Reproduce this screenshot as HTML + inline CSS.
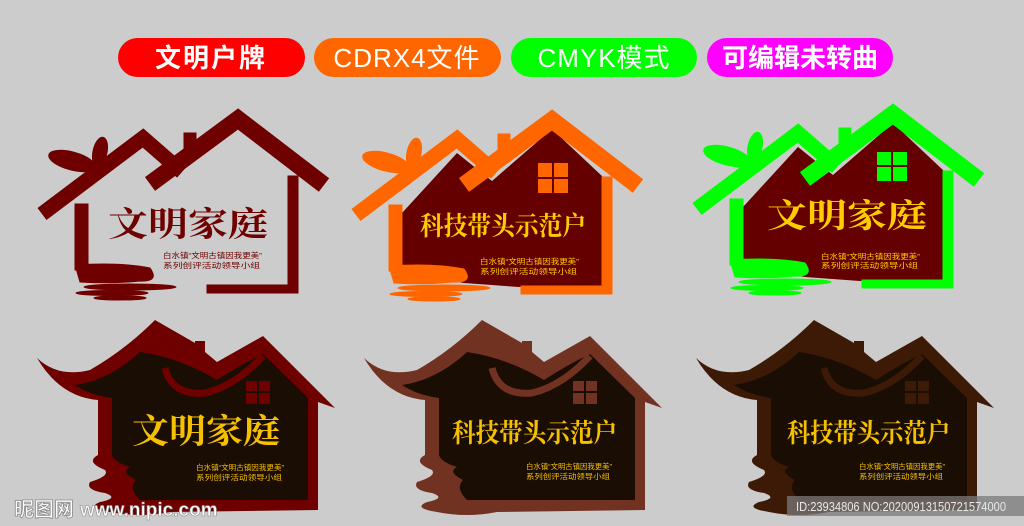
<!DOCTYPE html>
<html><head><meta charset="utf-8"><style>
html,body{margin:0;padding:0;background:#cccccc;}
svg{display:block}
text{font-family:"Liberation Sans","Noto Sans CJK SC",sans-serif;}
.cal{font-family:"Noto Serif CJK SC","Liberation Serif",serif;font-weight:bold;}
</style></head><body>
<svg width="1024" height="526" viewBox="0 0 1024 526" xmlns="http://www.w3.org/2000/svg">
<rect width="1024" height="526" fill="#cccccc"/>
<defs>
<g id="topOutline">
  <polyline points="42,214 143,138 182,172" fill="none" stroke-width="15" stroke-linejoin="miter"/>
  <rect x="184" y="133" width="12" height="25"/>
  <polyline points="150,184 238,119 324,185" fill="none" stroke-width="17" stroke-linejoin="miter"/>
  <rect x="75" y="204" width="13" height="66"/>
  <rect x="288" y="176" width="10" height="117"/>
  <rect x="207" y="285" width="91" height="8"/>
  <ellipse cx="72" cy="161" rx="24" ry="9" transform="rotate(15 72 161)"/>
  <ellipse cx="100" cy="152" rx="7" ry="15" transform="rotate(12 100 152)"/>
  <path d="M75,265 Q120,262 150,268 Q160,282 140,281 Q110,284 80,282 Z"/>
  <ellipse cx="130" cy="287" rx="46" ry="3"/>
  <ellipse cx="112" cy="293" rx="36" ry="2.5"/>
  <ellipse cx="120" cy="298" rx="26" ry="2"/>
</g>
<polygon id="topBody" points="88,212 143,152 178,180 238,128 289,176 289,286 205,286 150,282 88,272"/>
<path id="botShape" d="M37,358 Q58,378 90,370 Q125,350 155,320 L195,343 L195,341 L205,341 L205,352 L217,362 L263,336 L335,408 L318,402 L318,510 L170,512 Q140,518 110,512 Q85,508 100,502 Q120,498 105,493 Q85,490 90,482 Q110,476 105,470 Q85,462 98,455 L98,400 Q60,397 37,358 Z"/>
<path id="botBody" d="M75,385 Q110,380 140,352 Q180,358 217,380 Q240,365 263,354 L308,398 L308,500 L140,500 Q128,488 136,480 Q120,472 130,467 Q114,462 112,455 L112,398 Q90,395 75,385 Z"/>
</defs>

<!-- pills -->
<rect x="118" y="38" width="187" height="39" rx="19.5" fill="#ff0000"/>
<text x="211" y="67" font-size="26" font-weight="bold" fill="#fff" text-anchor="middle" letter-spacing="2">文明户牌</text>
<rect x="314" y="38" width="187" height="39" rx="19.5" fill="#ff6600"/>
<text x="407" y="67" font-size="26" fill="#fff" text-anchor="middle" letter-spacing="1">CDRX4文件</text>
<rect x="511" y="38" width="186" height="39" rx="19.5" fill="#00ff00"/>
<text x="604" y="67" font-size="26" fill="#fff" text-anchor="middle" letter-spacing="1">CMYK模式</text>
<rect x="707" y="38" width="186" height="39" rx="19.5" fill="#ff00ff"/>
<text x="800" y="67" font-size="26" font-weight="bold" fill="#fff" text-anchor="middle">可编辑未转曲</text>

<!-- panel 1 -->
<g fill="#6e0000" stroke="#6e0000"><use href="#topOutline"/></g>
<text class="cal" x="108" y="236" font-size="34" fill="#6e0000" textLength="160" lengthAdjust="spacingAndGlyphs">文明家庭</text>
<text x="163" y="258" font-size="7.5" fill="#6e0000" textLength="99" lengthAdjust="spacingAndGlyphs">白水镇“文明古镇因我更美”</text>
<text x="163" y="268" font-size="7.5" fill="#6e0000" textLength="97" lengthAdjust="spacingAndGlyphs">系列创评活动领导小组</text>

<!-- panel 2 -->
<g transform="translate(314,1)">
<use href="#topBody" fill="#650000"/>
<g fill="#ff6600" stroke="#ff6600"><use href="#topOutline"/></g>
<rect x="224" y="162" width="30" height="30" fill="#ff6600"/>
<rect x="238" y="162" width="2" height="30" fill="#650000"/><rect x="224" y="176" width="30" height="2" fill="#650000"/>
<text class="cal" x="106" y="234" font-size="26" fill="#ffcc00" textLength="166" lengthAdjust="spacingAndGlyphs">科技带头示范户</text>
<text x="166" y="263" font-size="7.5" fill="#ffcc00" textLength="99" lengthAdjust="spacingAndGlyphs">白水镇“文明古镇因我更美”</text>
<text x="166" y="273" font-size="7.5" fill="#ffcc00" textLength="97" lengthAdjust="spacingAndGlyphs">系列创评活动领导小组</text>
</g>

<!-- panel 3 -->
<g transform="translate(655,-5)">
<use href="#topBody" fill="#650000"/>
<g fill="#00ff00" stroke="#00ff00"><use href="#topOutline"/></g>
<rect x="222" y="157" width="30" height="29" fill="#00ff00"/>
<rect x="236" y="157" width="2" height="29" fill="#650000"/><rect x="222" y="170" width="30" height="2" fill="#650000"/>
<text class="cal" x="112" y="232" font-size="33" fill="#ffcc00" textLength="160" lengthAdjust="spacingAndGlyphs">文明家庭</text>
<text x="166" y="264" font-size="7.5" fill="#ffcc00" textLength="99" lengthAdjust="spacingAndGlyphs">白水镇“文明古镇因我更美”</text>
<text x="166" y="273" font-size="7.5" fill="#ffcc00" textLength="97" lengthAdjust="spacingAndGlyphs">系列创评活动领导小组</text>
</g>

<!-- bottom panels -->
<g>
<use href="#botShape" fill="#6e0000"/>
<use href="#botBody" fill="#1a0d03"/>
<path d="M165,368 Q172,396 205,393 Q235,386 263,356" fill="none" stroke="#6e0000" stroke-width="7"/>
<rect x="246" y="381" width="24" height="23" fill="#6e0000"/>
<rect x="257" y="381" width="2" height="23" fill="#1a0d03"/><rect x="246" y="391" width="24" height="2" fill="#1a0d03"/>
<text class="cal" x="132" y="443" font-size="34" fill="#f5c000" textLength="148" lengthAdjust="spacingAndGlyphs">文明家庭</text>
<text x="196" y="470" font-size="7.5" fill="#f5c000" textLength="88" lengthAdjust="spacingAndGlyphs">白水镇“文明古镇因我更美”</text>
<text x="196" y="480" font-size="7.5" fill="#f5c000" textLength="86" lengthAdjust="spacingAndGlyphs">系列创评活动领导小组</text>
</g>

<g transform="translate(327,0)">
<use href="#botShape" fill="#723222"/>
<use href="#botBody" fill="#1a0d03"/>
<path d="M165,368 Q172,396 205,393 Q235,386 263,356" fill="none" stroke="#723222" stroke-width="7"/>
<rect x="246" y="381" width="24" height="23" fill="#723222"/>
<rect x="257" y="381" width="2" height="23" fill="#1a0d03"/><rect x="246" y="391" width="24" height="2" fill="#1a0d03"/>
<text class="cal" x="125" y="442" font-size="26" fill="#f5c000" textLength="165" lengthAdjust="spacingAndGlyphs">科技带头示范户</text>
<text x="199" y="469" font-size="7.5" fill="#f5c000" textLength="86" lengthAdjust="spacingAndGlyphs">白水镇“文明古镇因我更美”</text>
<text x="199" y="479" font-size="7.5" fill="#f5c000" textLength="84" lengthAdjust="spacingAndGlyphs">系列创评活动领导小组</text>
</g>

<g transform="translate(659,0)">
<use href="#botShape" fill="#3d1a05"/>
<use href="#botBody" fill="#1a0d03"/>
<path d="M165,368 Q172,396 205,393 Q235,386 263,356" fill="none" stroke="#3d1a05" stroke-width="7"/>
<rect x="246" y="381" width="24" height="23" fill="#3d1a05"/>
<rect x="257" y="381" width="2" height="23" fill="#1a0d03"/><rect x="246" y="391" width="24" height="2" fill="#1a0d03"/>
<text class="cal" x="128" y="442" font-size="26" fill="#f5c000" textLength="163" lengthAdjust="spacingAndGlyphs">科技带头示范户</text>
<text x="200" y="469" font-size="7.5" fill="#f5c000" textLength="86" lengthAdjust="spacingAndGlyphs">白水镇“文明古镇因我更美”</text>
<text x="200" y="479" font-size="7.5" fill="#f5c000" textLength="84" lengthAdjust="spacingAndGlyphs">系列创评活动领导小组</text>
</g>

<!-- watermarks -->
<text x="14" y="516" font-size="20" font-weight="bold" fill="#fff" stroke="#888" stroke-width="0.8">昵图网</text>
<text x="80" y="516" font-size="19" font-weight="bold" fill="#fff" stroke="#888" stroke-width="0.6">www.nipic.com</text>
<rect x="787" y="496" width="237" height="20" fill="#7a7a7a" opacity="0.75"/>
<text x="796" y="511" font-size="13" fill="#e8e8e8" textLength="210" lengthAdjust="spacingAndGlyphs">ID:23934806 NO:20200913150721574000</text>
</svg>
</body></html>
